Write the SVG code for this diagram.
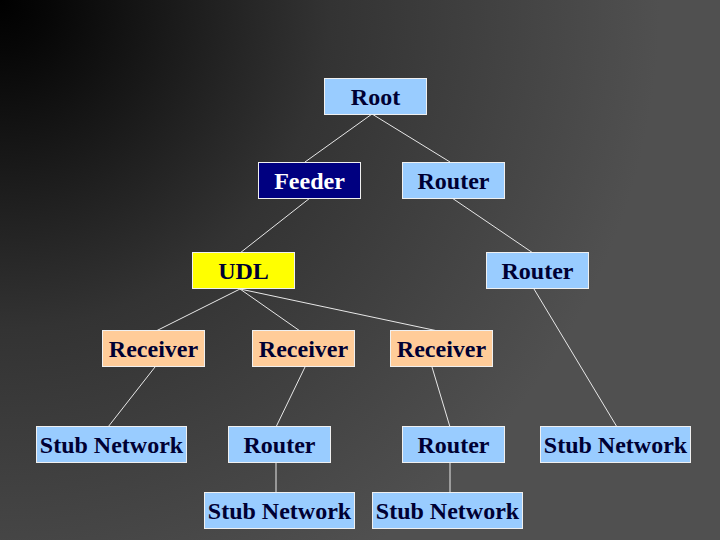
<svg xmlns="http://www.w3.org/2000/svg" width="720" height="540" viewBox="0 0 720 540">
<defs>
<radialGradient id="bg" gradientUnits="userSpaceOnUse" cx="0" cy="0" r="660">
<stop offset="0" stop-color="#000000"/>
<stop offset="0.08" stop-color="#070707"/>
<stop offset="0.5" stop-color="#333333"/>
<stop offset="1" stop-color="#505050"/>
</radialGradient>
</defs>
<style>
.box{stroke:#f0f0f0;stroke-width:1}
.blue{fill:#99ccff}
.navy{fill:#000080}
.yellow{fill:#ffff00}
.peach{fill:#ffcc99}
.lbl{font-family:'Liberation Serif','Times New Roman',Tinos,'DejaVu Serif',serif;font-size:24px;font-weight:bold;text-anchor:middle;fill:#000033}
.light{fill:#ffffff}
.edge{stroke:#e8e8e8;stroke-width:1;fill:none}
</style>
<rect x="0" y="0" width="720" height="540" fill="url(#bg)"/>
<g id="connectors">
<line class="edge" x1="372" y1="114" x2="305" y2="162"/>
<line class="edge" x1="372" y1="114" x2="450" y2="162"/>
<line class="edge" x1="310" y1="198" x2="240" y2="253"/>
<line class="edge" x1="452" y1="198" x2="533" y2="253"/>
<line class="edge" x1="240" y1="289" x2="156" y2="331"/>
<line class="edge" x1="240" y1="289" x2="300" y2="331"/>
<line class="edge" x1="240" y1="289" x2="438" y2="331"/>
<line class="edge" x1="534" y1="289" x2="617" y2="427"/>
<line class="edge" x1="155" y1="367" x2="108" y2="427"/>
<line class="edge" x1="305" y1="367" x2="276" y2="427"/>
<line class="edge" x1="432" y1="367" x2="450" y2="427"/>
<line class="edge" x1="276" y1="463" x2="276" y2="493"/>
<line class="edge" x1="450" y1="463" x2="450" y2="493"/>
</g>
<g id="root"><rect class="box blue" x="324.5" y="78.5" width="102" height="36"/><text class="lbl" x="375.5" y="105" font-family="Liberation Serif">Root</text></g>
<g id="feeder"><rect class="box navy" x="258.5" y="162.5" width="102" height="36"/><text class="lbl light" x="309.5" y="189">Feeder</text></g>
<g id="router1"><rect class="box blue" x="402.5" y="162.5" width="102" height="36"/><text class="lbl" x="453.5" y="189">Router</text></g>
<g id="udl"><rect class="box yellow" x="192.5" y="252.5" width="102" height="36"/><text class="lbl" x="243.5" y="279">UDL</text></g>
<g id="router2"><rect class="box blue" x="486.5" y="252.5" width="102" height="36"/><text class="lbl" x="537.5" y="279">Router</text></g>
<g id="receiver1"><rect class="box peach" x="102.5" y="330.5" width="102" height="36"/><text class="lbl" x="153.5" y="357">Receiver</text></g>
<g id="receiver2"><rect class="box peach" x="252.5" y="330.5" width="102" height="36"/><text class="lbl" x="303.5" y="357">Receiver</text></g>
<g id="receiver3"><rect class="box peach" x="390.5" y="330.5" width="102" height="36"/><text class="lbl" x="441.5" y="357">Receiver</text></g>
<g id="stub1"><rect class="box blue" x="36.5" y="426.5" width="150" height="36"/><text class="lbl" x="111.5" y="453">Stub Network</text></g>
<g id="router3"><rect class="box blue" x="228.5" y="426.5" width="102" height="36"/><text class="lbl" x="279.5" y="453">Router</text></g>
<g id="router4"><rect class="box blue" x="402.5" y="426.5" width="102" height="36"/><text class="lbl" x="453.5" y="453">Router</text></g>
<g id="stub4"><rect class="box blue" x="540.5" y="426.5" width="150" height="36"/><text class="lbl" x="615.5" y="453">Stub Network</text></g>
<g id="stub2"><rect class="box blue" x="204.5" y="492.5" width="150" height="36"/><text class="lbl" x="279.5" y="519">Stub Network</text></g>
<g id="stub3"><rect class="box blue" x="372.5" y="492.5" width="150" height="36"/><text class="lbl" x="447.5" y="519">Stub Network</text></g>
</svg>
